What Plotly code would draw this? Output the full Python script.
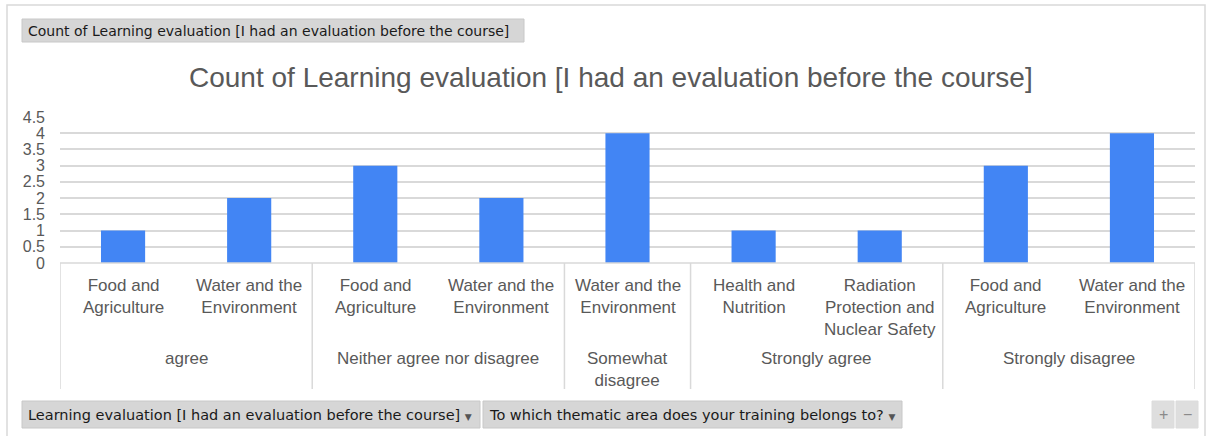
import plotly.graph_objects as go

# ---- data ----
groups = ["agree", "Neither agree nor disagree", "Somewhat<br>disagree", "Strongly agree", "Strongly disagree"]
group_sizes = [2, 2, 1, 2, 2]
categories = [
    "Food and<br>Agriculture", "Water and the<br>Environment",
    "Food and<br>Agriculture", "Water and the<br>Environment",
    "Water and the<br>Environment",
    "Health and<br>Nutrition", "Radiation<br>Protection and<br>Nuclear Safety",
    "Food and<br>Agriculture", "Water and the<br>Environment",
]
counts = [1, 2, 3, 2, 4, 1, 1, 3, 4]
title_text = "Count of Learning evaluation [I had an evaluation before the course]"
row_field = "Learning evaluation [I had an evaluation before the course]"
col_field = "To which thematic area does your training belongs to?"

W, H = 1212, 436
L, R, T, B = 60, 1195, 117, 263  # plot area in pixels
PW, PH = R - L, B - T

def px(x):
    return (x - L) / PW

def py(y):
    return (B - y) / PH

GRAY = "#595959"
FONT = "Liberation Sans, Arial, sans-serif"
BTN_FONT = "DejaVu Sans, sans-serif"

xs = list(range(len(categories)))
fig = go.Figure(go.Bar(x=xs, y=counts, marker=dict(color="#4285F4", line=dict(width=0)), width=0.35))

shapes = []
annotations = []

# outer frame
shapes.append(dict(type="rect", xref="paper", yref="paper", x0=px(7), x1=px(1205), y0=py(445), y1=py(5),
                   line=dict(color="#d9d9d9", width=1.5), fillcolor="rgba(0,0,0,0)", layer="below"))

# category axis lines
shapes.append(dict(type="line", xref="paper", yref="paper", x0=0, x1=1, y0=0, y1=0, line=dict(color="#d9d9d9", width=1.5)))
bounds = [0]
for s in group_sizes:
    bounds.append(bounds[-1] + s)
for b in bounds:
    shapes.append(dict(type="line", xref="x", yref="paper", x0=b - 0.5, x1=b - 0.5, y0=0, y1=py(389),
                       line=dict(color="#d9d9d9", width=1.5)))

# category labels
for i, c in enumerate(categories):
    annotations.append(dict(x=i, y=py(274), xref="x", yref="paper", text=c, showarrow=False,
                            yanchor="top", xanchor="center", font=dict(family=FONT, size=17, color=GRAY),
                            align="center"))
# group labels
for gi, g in enumerate(groups):
    center = (bounds[gi] + bounds[gi + 1] - 1) / 2
    annotations.append(dict(x=center, y=py(347), xref="x", yref="paper", text=g, showarrow=False,
                            yanchor="top", xanchor="center", font=dict(family=FONT, size=17, color=GRAY),
                            align="center"))

# buttons
def button(x0, x1, y0, y1, text, size=14.5):
    shapes.append(dict(type="rect", xref="paper", yref="paper", x0=px(x0), x1=px(x1), y0=py(y1), y1=py(y0),
                       line=dict(color="#c8c8c8", width=1), fillcolor="#d6d6d6"))
    annotations.append(dict(x=px(x0 + 4), y=py((y0 + y1) / 2), xref="paper", yref="paper", text=text,
                            showarrow=False, xanchor="left", yanchor="middle",
                            font=dict(family=BTN_FONT, size=size, color="#1a1a1a")))

button(22, 524, 19, 42, title_text, size=14)
button(22, 480, 401, 428, row_field + " <span style='font-size:9px;color:#555'>▼</span>")
button(483, 902, 401, 428, col_field + " <span style='font-size:9px;color:#555'>▼</span>")
for x0, x1, t in [(1152, 1174, "+"), (1176, 1198, "−")]:
    shapes.append(dict(type="rect", xref="paper", yref="paper", x0=px(x0), x1=px(x1), y0=py(428), y1=py(401),
                       line=dict(color="#dcdcdc", width=1), fillcolor="#dedede"))
    annotations.append(dict(x=px((x0 + x1) / 2), y=py(414.5), xref="paper", yref="paper", text=t,
                            showarrow=False, xanchor="center", yanchor="middle",
                            font=dict(family=FONT, size=16, color="#8a8a8a")))

# chart title
annotations.append(dict(x=px(611), y=py(77), xref="paper", yref="paper", text=title_text, showarrow=False,
                        xanchor="center", yanchor="middle", font=dict(family=FONT, size=28, color=GRAY)))

fig.update_layout(
    width=W, height=H,
    margin=dict(l=L, r=W - R, t=T, b=H - B, pad=0),
    paper_bgcolor="white", plot_bgcolor="white",
    showlegend=False,
    shapes=shapes, annotations=annotations,
    xaxis=dict(range=[-0.5, len(categories) - 0.5], showticklabels=False, showgrid=False, zeroline=False,
               showline=False, ticks="", fixedrange=True),
    yaxis=dict(range=[0, 4.5], dtick=0.5, tick0=0, showgrid=True, gridcolor="#d9d9d9", gridwidth=1.5,
               zeroline=False, showline=False, ticks="", tickfont=dict(family=FONT, size=16, color=GRAY),
               ticklabelstandoff=14, fixedrange=True),
    font=dict(family=FONT),
)

fig.write_html("out.html", config={"displayModeBar": False},
               post_script="document.body.style.margin='0';document.body.style.overflow='hidden';")
